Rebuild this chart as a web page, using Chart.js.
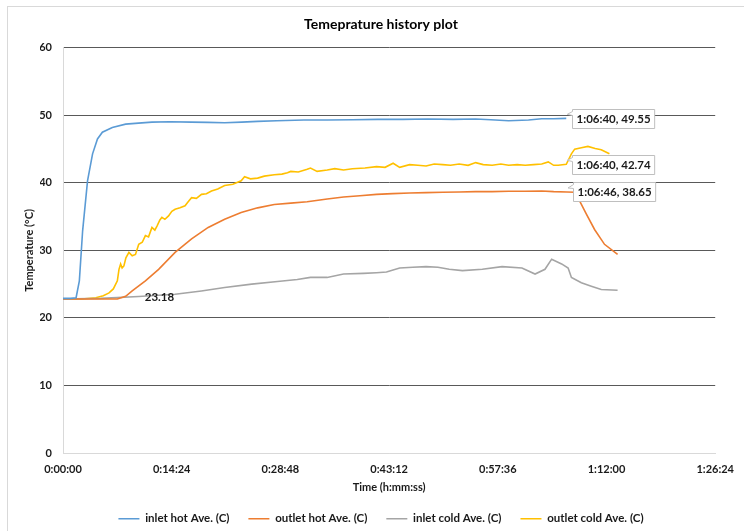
<!DOCTYPE html>
<html>
<head>
<meta charset="utf-8">
<script src="https://cdn.jsdelivr.net/npm/chart.js@4.4.1/dist/chart.umd.min.js"></script>
<style>
  body { margin: 0; background: #fff; }
  #wrap { position: relative; width: 744px; height: 531px; }
</style>
</head>
<body>
<div id="wrap"><canvas id="chart" width="744" height="531"></canvas></div>
<script>
// time in seconds, temperatures in C
let inletHotTime = [0, 60, 104, 130, 156, 195, 235, 274, 313, 392, 498, 600, 707, 850, 1022, 1150, 1285, 1420, 1547, 1700, 1915, 2100, 2300, 2500, 2700, 2900, 3100, 3280, 3400, 3542, 3700, 3805, 3900, 4000];
let inletHot = [22.9, 22.9, 23.0, 25.5, 32.9, 40.3, 44.3, 46.5, 47.5, 48.2, 48.7, 48.85, 49.0, 49.05, 49.0, 48.95, 48.9, 49.0, 49.1, 49.2, 49.3, 49.3, 49.35, 49.4, 49.4, 49.45, 49.4, 49.45, 49.35, 49.2, 49.3, 49.5, 49.5, 49.55];

let outletHotTime = [0, 200, 432, 498, 550, 655, 760, 891, 1022, 1154, 1285, 1416, 1547, 1679, 1810, 1941, 2100, 2230, 2360, 2492, 2620, 2755, 2886, 3018, 3150, 3280, 3410, 3542, 3670, 3805, 3900, 4006, 4067, 4107, 4159, 4225, 4304, 4408];
let outletHot = [22.8, 22.8, 22.8, 23.2, 24.0, 25.5, 27.2, 29.7, 31.7, 33.4, 34.6, 35.6, 36.3, 36.8, 37.0, 37.2, 37.6, 37.9, 38.1, 38.3, 38.4, 38.5, 38.55, 38.6, 38.65, 38.7, 38.7, 38.75, 38.75, 38.8, 38.7, 38.65, 38.6, 37.3, 35.4, 33.1, 30.9, 29.4];

let inletColdTime = [0, 300, 602, 891, 1100, 1285, 1500, 1705, 1862, 1967, 2099, 2230, 2388, 2492, 2571, 2676, 2780, 2886, 2980, 3070, 3175, 3333, 3490, 3648, 3752, 3831, 3884, 3963, 4015, 4041, 4120, 4199, 4278, 4408];
let inletCold = [22.8, 22.9, 23.18, 23.5, 24.0, 24.5, 25.0, 25.4, 25.7, 26.0, 26.0, 26.5, 26.6, 26.7, 26.8, 27.4, 27.5, 27.6, 27.5, 27.2, 27.0, 27.2, 27.6, 27.4, 26.5, 27.2, 28.7, 28.0, 27.4, 26.0, 25.2, 24.7, 24.2, 24.1];

let outletColdTime = [0, 150, 261, 320, 366, 400, 432, 445, 458, 470, 484, 500, 524, 550, 576, 602, 630, 655, 680, 707, 730, 747, 770, 786, 810, 839, 865, 891, 930, 970, 995, 1022, 1060, 1101, 1140, 1180, 1230, 1285, 1350, 1416, 1443, 1490, 1547, 1600, 1679, 1740, 1784, 1810, 1870, 1941, 1967, 2020, 2100, 2160, 2230, 2300, 2400, 2492, 2560, 2624, 2676, 2755, 2820, 2886, 2950, 3018, 3080, 3149, 3220, 3280, 3340, 3411, 3480, 3542, 3610, 3674, 3740, 3805, 3857, 3900, 3936, 4000, 4041, 4067, 4120, 4172, 4230, 4278, 4343];
let outletCold = [22.8, 22.8, 23.0, 23.3, 23.7, 24.3, 25.5, 27.2, 28.0, 27.4, 27.7, 28.9, 29.7, 29.2, 29.4, 30.9, 31.2, 32.2, 32.0, 33.4, 33.0, 33.6, 34.5, 34.9, 34.6, 35.1, 35.8, 36.1, 36.3, 36.6, 37.2, 37.8, 37.7, 38.3, 38.4, 38.8, 39.1, 39.6, 39.8, 40.3, 40.9, 40.6, 40.7, 41.0, 41.2, 41.3, 41.5, 41.7, 41.6, 42.0, 42.2, 41.7, 41.9, 42.1, 41.9, 42.1, 42.2, 42.4, 42.3, 42.9, 42.3, 42.7, 42.6, 42.5, 42.8, 42.7, 42.6, 42.8, 42.6, 43.0, 42.7, 42.6, 42.8, 42.6, 42.7, 42.6, 42.7, 42.8, 43.1, 42.6, 42.6, 42.74, 44.3, 45.0, 45.2, 45.4, 45.1, 44.9, 44.3];

let seriesNames = ['inlet hot Ave. (C)', 'outlet hot Ave. (C)', 'inlet cold Ave. (C)', 'outlet cold Ave. (C)'];
let seriesColors = ['#5B9BD5', '#ED7D31', '#A5A5A5', '#FFC000'];

// callout labels: [series index, time]
let boxedLabels = [[0, 4000], [3, 4000], [1, 4006]];
let plainLabels = [[2, 602]];

let xTickStep = 864;
let xMax = 5184;

const FONT = 'Lato, "Open Sans", sans-serif';

function fmtTime(s) {
    let h = Math.floor(s / 3600);
    let m = Math.floor((s % 3600) / 60);
    let sec = Math.round(s % 60);
    return h + ':' + String(m).padStart(2, '0') + ':' + String(sec).padStart(2, '0');
}

function toPoints(times, vals) {
    return times.map((t, i) => ({ x: t, y: vals[i] }));
}

let allTimes = [inletHotTime, outletHotTime, inletColdTime, outletColdTime];
let allVals = [inletHot, outletHot, inletCold, outletCold];

let datasets = seriesNames.map((name, i) => ({
    label: name,
    data: toPoints(allTimes[i], allVals[i]),
    borderColor: seriesColors[i],
    backgroundColor: seriesColors[i],
    borderWidth: 1.6,
    pointRadius: 0,
    tension: 0,
    fill: false
}));

function valueAt(si, t) {
    let idx = allTimes[si].indexOf(t);
    return allVals[si][idx];
}

// frame + data labels
const extras = {
    id: 'extras',
    beforeDraw(chart) {
        let c = chart.ctx;
        c.save();
        c.strokeStyle = '#d9d9d9';
        c.lineWidth = 1;
        c.strokeRect(7.5, 6.5, 800, 600);
        c.restore();
    },
    afterDatasetsDraw(chart) {
        let c = chart.ctx;
        let xs = chart.scales.x, ys = chart.scales.y;
        c.save();
        c.font = 'bold 11.5px ' + FONT;
        c.textBaseline = 'middle';
        boxedLabels.forEach(([si, t]) => {
            let v = valueAt(si, t);
            let px = xs.getPixelForValue(t), py = ys.getPixelForValue(v);
            let txt = fmtTime(t) + ', ' + v.toFixed(2);
            let w = c.measureText(txt).width + 8, h = 19;
            let bx = Math.round(px + 6) + 0.5, by = Math.round(py - h / 2) + 0.5;
            c.fillStyle = '#fff';
            c.strokeStyle = '#bfbfbf';
            c.lineWidth = 1;
            c.beginPath();
            c.moveTo(bx, by);
            c.lineTo(bx + w, by);
            c.lineTo(bx + w, by + h);
            c.lineTo(bx, by + h);
            c.lineTo(bx, by + 6);
            c.lineTo(px + 1, py - 4);
            c.lineTo(bx, by + 2);
            c.closePath();
            c.fill();
            c.stroke();
            c.fillStyle = '#1a1a1a';
            c.textAlign = 'left';
            c.fillText(txt, bx + 4, py + 0.5);
        });
        plainLabels.forEach(([si, t]) => {
            let v = valueAt(si, t);
            let px = xs.getPixelForValue(t), py = ys.getPixelForValue(v);
            c.fillStyle = '#1a1a1a';
            c.textAlign = 'left';
            c.fillText(v.toFixed(2), px + 6, py + 1);
        });
        c.restore();
    }
};

let chart = new Chart(document.getElementById('chart').getContext('2d'), {
    type: 'line',
    data: { datasets: datasets },
    options: {
        responsive: false,
        animation: false,
        layout: { padding: { left: 40, right: 22, top: 0, bottom: -3.5 } },
        plugins: {
            title: {
                display: true,
                text: 'Temeprature history plot',
                color: '#000',
                font: { family: FONT, size: 14, weight: 'bold' },
                padding: { top: 16, bottom: 15 }
            },
            legend: {
                position: 'bottom',
                labels: {
                    color: '#1a1a1a',
                    font: { family: FONT, size: 11.5, weight: 'bold' },
                    usePointStyle: true,
                    pointStyle: 'line',
                    pointStyleWidth: 21,
                    padding: 19
                }
            },
            tooltip: { enabled: false }
        },
        scales: {
            x: {
                type: 'linear',
                min: 0,
                max: xMax,
                afterFit: s => { s.height = 41; },
                ticks: {
                    stepSize: xTickStep,
                    color: '#1a1a1a',
                    font: { family: FONT, size: 11, weight: 'bold' },
                    padding: 10,
                    maxRotation: 0,
                    callback: v => fmtTime(v)
                },
                grid: { display: false, drawTicks: false },
                border: { display: true, color: '#d9d9d9' },
                title: {
                    display: true,
                    text: 'Time (h:mm:ss)',
                    color: '#1a1a1a',
                    font: { family: FONT, size: 11, weight: 'bold' },
                    padding: { top: 0, bottom: 0 }
                }
            },
            y: {
                min: 0,
                max: 60,
                afterFit: s => { s.width = 23; },
                ticks: {
                    stepSize: 10,
                    color: '#1a1a1a',
                    font: { family: FONT, size: 11, weight: 'bold' },
                    padding: 11
                },
                grid: {
                    drawTicks: false,
                    color: ctx => ctx.tick && ctx.tick.value === 0 ? '#d9d9d9' : '#595959'
                },
                border: { display: true, color: '#d9d9d9' },
                title: {
                    display: true,
                    text: 'Temperature (°C)',
                    color: '#1a1a1a',
                    font: { family: FONT, size: 11, weight: 'bold' },
                    padding: { top: -17.6, bottom: 0 }
                }
            }
        }
    },
    plugins: [extras]
});
</script>
</body>
</html>
